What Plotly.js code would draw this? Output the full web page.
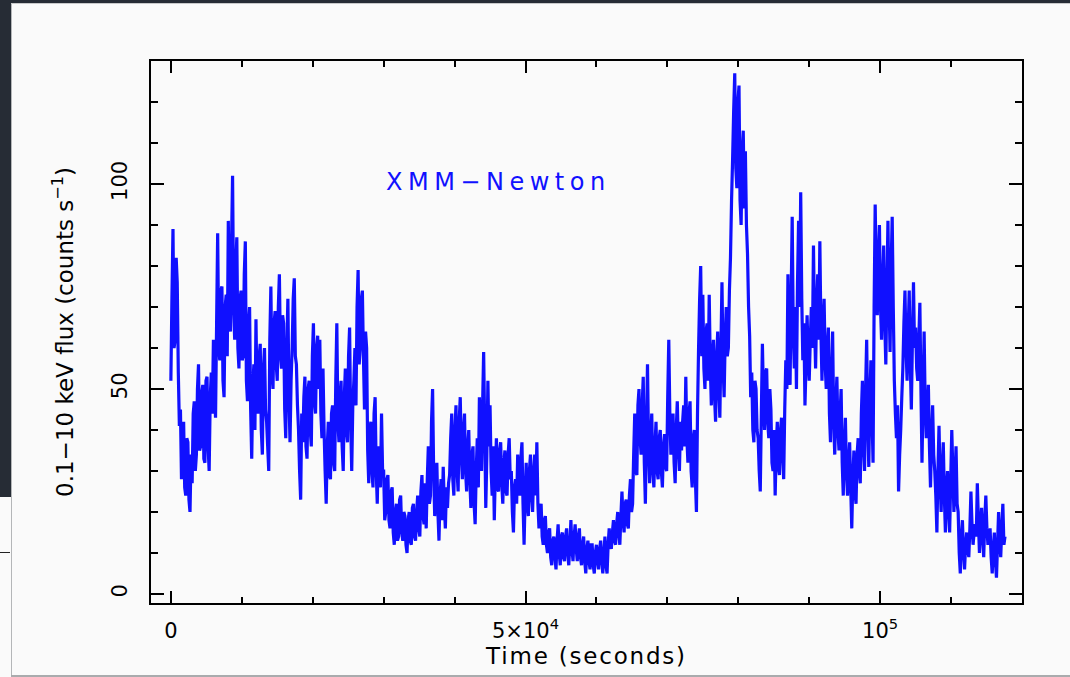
<!DOCTYPE html>
<html>
<head>
<meta charset="utf-8">
<script src="https://cdn.plot.ly/plotly-3.0.1.min.js"></script>
<style>
  html, body { margin: 0; padding: 0; background: #fafafa; }
  #frame { position: relative; width: 1070px; height: 677px; overflow: hidden; }
  #chart { position: absolute; left: 0; top: 0; width: 1070px; height: 677px; }
  .edge { position: absolute; z-index: 10; }
  .annotation-text { letter-spacing: 5.5px; }
  .g-xtitle text { letter-spacing: 1.8px; }
</style>
</head>
<body>
<div id="frame">
  <div id="chart"></div>
  <!-- window edges around the figure -->
  <div class="edge" style="left:0;top:0;width:1070px;height:3px;background:#262c35;"></div>
  <div class="edge" style="left:0;top:0;width:11px;height:497px;background:#262c35;"></div>
  <div class="edge" style="left:11px;top:3px;width:1px;height:674px;background:#b4b6b8;"></div>
  <div class="edge" style="left:11px;top:3px;width:1059px;height:1px;background:#c8c9ca;"></div>
  <div class="edge" style="left:0;top:552px;width:10px;height:1px;background:#222;"></div>
  <div class="edge" style="left:11px;top:675px;width:1059px;height:2px;background:#a9abad;"></div>
</div>
<script>
// 0.1-10 keV count rate, one value per 150 s time bin starting at t = 0
const tStart = 0;
const binSize = 150;
const rate = [
  52, 72, 89, 60, 62, 82, 76, 54, 41, 45, 28, 39, 42, 26, 24, 38, 37, 23, 20, 34,
  27, 44, 47, 30, 34, 50, 56, 35, 36, 49, 51, 33, 32, 52, 53, 36, 30, 48, 54, 44,
  62, 50, 43, 66, 88, 60, 57, 74, 75, 52, 48, 70, 73, 58, 91, 66, 64, 85, 102, 70,
  62, 80, 87, 60, 55, 72, 74, 57, 58, 78, 86, 52, 47, 66, 70, 45, 33, 50, 56, 40,
  67, 48, 44, 58, 61, 40, 34, 55, 60, 45, 42, 36, 30, 62, 75, 54, 50, 66, 69, 56,
  52, 70, 78, 58, 55, 68, 66, 45, 38, 60, 72, 48, 37, 52, 60, 72, 77, 58, 56, 46,
  40, 30, 23, 44, 37, 48, 53, 36, 33, 50, 52, 40, 36, 58, 66, 47, 44, 60, 63, 50,
  62, 44, 38, 55, 40, 30, 22, 36, 42, 29, 28, 44, 46, 32, 30, 52, 66, 42, 37, 48,
  52, 36, 30, 48, 55, 40, 37, 58, 65, 42, 30, 46, 52, 60, 46, 70, 79, 56, 60, 72,
  74, 58, 45, 64, 60, 35, 27, 40, 42, 30, 26, 44, 48, 30, 22, 36, 35, 26, 44, 30,
  30, 18, 20, 28, 29, 18, 16, 25, 26, 15, 12, 20, 22, 13, 14, 23, 24, 15, 13, 20,
  19, 12, 10, 18, 20, 13, 12, 21, 22, 14, 13, 20, 24, 16, 14, 25, 29, 19, 17, 27,
  16, 28, 36, 22, 24, 42, 50, 30, 19, 28, 32, 20, 13, 24, 28, 18, 31, 22, 16, 26,
  21, 27, 29, 38, 44, 28, 24, 40, 46, 30, 25, 42, 48, 34, 28, 40, 44, 30, 25, 36,
  40, 28, 21, 34, 36, 22, 17, 30, 38, 26, 48, 36, 30, 46, 59, 40, 21, 34, 52, 36,
  46, 30, 24, 36, 18, 30, 38, 26, 25, 35, 37, 27, 22, 32, 35, 25, 24, 34, 38, 28,
  30, 20, 15, 26, 28, 22, 34, 26, 24, 33, 37, 22, 12, 24, 32, 22, 19, 30, 34, 24,
  20, 30, 34, 24, 37, 22, 16, 20, 22, 14, 12, 18, 19, 12, 10, 15, 16, 9, 7, 13,
  14, 9, 6, 13, 17, 10, 7, 14, 15, 9, 8, 14, 16, 10, 7, 12, 18, 11, 8, 14,
  17, 11, 8, 14, 16, 9, 7, 12, 14, 8, 5, 11, 13, 8, 6, 12, 12, 7, 5, 10,
  12, 8, 6, 11, 13, 8, 5, 10, 14, 7, 5, 12, 16, 12, 11, 15, 18, 13, 12, 17,
  20, 15, 12, 19, 25, 18, 15, 22, 23, 17, 16, 24, 28, 20, 22, 34, 44, 30, 29, 46,
  50, 38, 34, 46, 53, 32, 22, 40, 56, 36, 27, 38, 44, 30, 26, 36, 42, 30, 28, 38,
  40, 30, 26, 36, 39, 31, 30, 48, 62, 44, 34, 40, 44, 32, 27, 40, 47, 36, 30, 42,
  35, 42, 46, 36, 53, 38, 32, 44, 47, 30, 26, 38, 40, 28, 20, 44, 60, 72, 80, 58,
  73, 55, 50, 64, 66, 52, 73, 56, 46, 58, 62, 48, 42, 58, 64, 50, 43, 60, 76, 56,
  48, 62, 70, 58, 60, 74, 82, 96, 106, 118, 127, 104, 99, 120, 124, 96, 90, 108, 113, 94,
  108, 90, 83, 70, 63, 48, 54, 40, 37, 52, 50, 40, 38, 30, 25, 44, 61, 48, 40, 54,
  55, 42, 38, 50, 45, 32, 30, 40, 24, 36, 42, 31, 29, 40, 43, 34, 28, 45, 57, 50,
  78, 60, 51, 72, 92, 64, 55, 70, 50, 76, 91, 70, 98, 72, 57, 66, 46, 56, 68, 58,
  52, 62, 70, 60, 85, 66, 55, 70, 78, 62, 86, 64, 52, 66, 72, 56, 50, 60, 65, 44,
  37, 54, 64, 42, 34, 46, 53, 40, 35, 44, 50, 32, 24, 36, 43, 30, 24, 32, 37, 26,
  16, 28, 35, 25, 22, 34, 38, 30, 27, 44, 52, 36, 30, 50, 62, 42, 31, 48, 57, 44,
  32, 70, 95, 78, 68, 82, 90, 70, 62, 76, 85, 66, 56, 74, 91, 72, 59, 80, 92, 70,
  52, 44, 38, 46, 25, 34, 40, 48, 55, 66, 74, 60, 52, 64, 74, 56, 45, 62, 76, 60,
  65, 55, 52, 62, 71, 50, 32, 48, 64, 46, 38, 44, 51, 36, 26, 38, 46, 34, 30, 24,
  15, 30, 41, 28, 20, 30, 37, 24, 15, 26, 30, 20, 15, 28, 40, 30, 20, 28, 36, 22,
  20, 10, 5, 14, 18, 10, 6, 12, 15, 11, 9, 16, 25, 17, 12, 15, 17, 14, 27, 18,
  10, 16, 21, 14, 9, 18, 24, 16, 12, 14, 16, 9, 5, 11, 15, 8, 4, 12, 20, 13,
  9, 16, 22, 12, 14
];
const time = rate.map((_, i) => tStart + i * binSize);

const xTickVals = [0, 50000, 100000];
const xTickText = ['0', '5\u00d710<sup>4</sup>', '10<sup>5</sup>'];
const yTickVals = [0, 50, 100];
const yTickText = ['0', '50', '100'];

const xTitle = 'Time (seconds)';
const yTitle = '0.1\u221210 keV flux (counts s<sup>\u22121</sup>)';
const label = 'XMM\u2212Newton';

const FONT = 'DejaVu Sans, sans-serif';
const BLUE = '#1010ff';

const trace = {
  x: time,
  y: rate,
  type: 'scatter',
  mode: 'lines',
  line: { color: BLUE, width: 3.2, simplify: false },
  hoverinfo: 'skip'
};

const axisCommon = {
  showline: true,
  linecolor: '#000',
  linewidth: 2,
  mirror: 'ticks',
  ticks: 'inside',
  tickcolor: '#000',
  tickwidth: 2,
  showgrid: false,
  zeroline: false,
  tickmode: 'array',
  tickfont: { family: FONT, size: 21, color: '#000' }
};

const layout = {
  width: 1070,
  height: 677,
  margin: { l: 151, r: 48, t: 61, b: 74 },
  paper_bgcolor: '#fafafa',
  plot_bgcolor: '#fafafa',
  showlegend: false,
  xaxis: Object.assign({}, axisCommon, {
    range: [-2800, 120000],
    tickvals: xTickVals,
    ticktext: xTickText,
    ticklen: 12,
    minor: { tickmode: 'linear', tick0: 0, dtick: 10000, ticks: 'inside', ticklen: 6, tickwidth: 2, tickcolor: '#000' },
    ticklabelstandoff: 8,
    title: { text: xTitle, font: { family: FONT, size: 23, color: '#000' }, standoff: 4 }
  }),
  yaxis: Object.assign({}, axisCommon, {
    range: [-2.2, 130],
    tickvals: yTickVals,
    ticktext: yTickText,
    tickangle: -90,
    ticklen: 13,
    minor: { tickmode: 'linear', tick0: 0, dtick: 10, ticks: 'inside', ticklen: 7, tickwidth: 2, tickcolor: '#000' },
    ticklabelstandoff: 14,
    title: { text: yTitle, font: { family: FONT, size: 23, color: '#000' }, standoff: 28 }
  }),
  annotations: [{
    text: label,
    xref: 'paper', yref: 'paper',
    x: 0.268, y: 0.777,
    xanchor: 'left', yanchor: 'middle',
    showarrow: false,
    font: { family: FONT, size: 24, color: BLUE }
  }]
};

Plotly.newPlot('chart', [trace], layout, { displayModeBar: false, staticPlot: true });
</script>
</body>
</html>
